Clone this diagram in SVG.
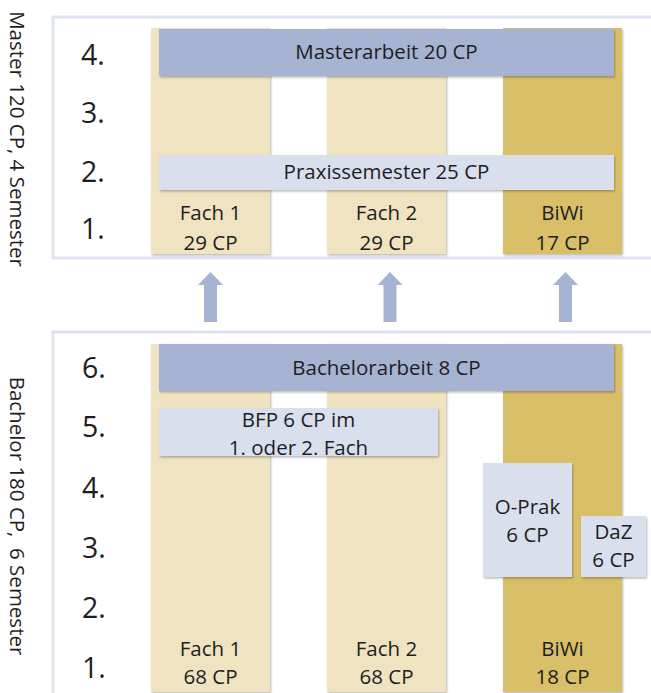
<svg xmlns="http://www.w3.org/2000/svg" width="651" height="693" viewBox="0 0 651 693">
<defs>
<filter id="sh" x="-5%" y="-5%" width="115%" height="115%">
<feDropShadow dx="1" dy="1.5" stdDeviation="1" flood-color="#000" flood-opacity="0.28"/>
</filter>
<style>
.frame{fill:#fff;stroke:#dde3f0;stroke-width:3}
.fach{fill:#f0e3c1;filter:url(#sh)}
.biwi{fill:#d9bf68;filter:url(#sh)}
.dark{fill:#a6b3d2;filter:url(#sh)}
.light{fill:#d9dfed;filter:url(#sh)}
text{font-family:"Open Sans","Liberation Sans",sans-serif;fill:#1e1e1e}
.t{font-size:20.5px;text-anchor:middle}
.n{font-size:28.5px}
.side{font-size:20.5px;text-anchor:middle}
.arrow{fill:#a6b3d2}
</style>
</defs>
<rect width="651" height="693" fill="#fff"/>
<g id="master-frame">
<rect class="frame" x="53" y="17" width="620" height="241"/>
<text class="side" transform="translate(10,0) rotate(90)" x="139" y="0">Master 120 CP, 4 Semester</text>
<text class="n" x="81" y="65">4.</text>
<text class="n" x="81" y="123">3.</text>
<text class="n" x="81" y="182">2.</text>
<text class="n" x="81" y="239">1.</text>
</g>
<g id="m-fach1"><rect class="fach" x="151" y="28" width="119" height="226"/><text class="t" x="210.5" y="220">Fach 1</text><text class="t" x="210.5" y="250">29 CP</text></g>
<g id="m-fach2"><rect class="fach" x="327" y="28" width="119" height="226"/><text class="t" x="386.5" y="220">Fach 2</text><text class="t" x="386.5" y="250">29 CP</text></g>
<g id="m-biwi"><rect class="biwi" x="503" y="28" width="119" height="226"/><text class="t" x="562.5" y="220">BiWi</text><text class="t" x="562.5" y="250">17 CP</text></g>
<g id="masterarbeit"><rect class="dark" x="159" y="29" width="455" height="47"/><text class="t" x="386.5" y="59">Masterarbeit 20 CP</text></g>
<g id="praxissemester"><rect class="light" x="159" y="155" width="455" height="35"/><text class="t" x="386.5" y="179">Praxissemester 25 CP</text></g>

<g id="connectors">
<polygon class="arrow" points="210.5,272 223,285 217,285 217,322 204,322 204,285 198,285"/>
<polygon class="arrow" points="390,272 402.5,285 396.5,285 396.5,322 383.5,322 383.5,285 377.5,285"/>
<polygon class="arrow" points="565.5,272 578,285 572,285 572,322 559,322 559,285 553,285"/>
</g>

<g id="bachelor-frame">
<rect class="frame" x="53" y="332" width="620" height="380"/>
<text class="side" transform="translate(10,0) rotate(90)" x="516" y="0" xml:space="preserve">Bachelor 180 CP,  6 Semester</text>
<text class="n" x="82" y="378">6.</text>
<text class="n" x="82" y="437">5.</text>
<text class="n" x="82" y="498">4.</text>
<text class="n" x="82" y="558">3.</text>
<text class="n" x="82" y="618">2.</text>
<text class="n" x="82" y="678">1.</text>
</g>
<g id="b-fach1"><rect class="fach" x="151" y="344" width="119" height="348"/><text class="t" x="210.5" y="656">Fach 1</text><text class="t" x="210.5" y="684">68 CP</text></g>
<g id="b-fach2"><rect class="fach" x="327" y="344" width="119" height="348"/><text class="t" x="386.5" y="656">Fach 2</text><text class="t" x="386.5" y="684">68 CP</text></g>
<g id="b-biwi"><rect class="biwi" x="503" y="344" width="119" height="348"/><text class="t" x="562.5" y="656">BiWi</text><text class="t" x="562.5" y="684">18 CP</text></g>
<g id="bachelorarbeit"><rect class="dark" x="159" y="344" width="455" height="47"/><text class="t" x="386.5" y="375">Bachelorarbeit 8 CP</text></g>
<g id="bfp"><rect class="light" x="159" y="408" width="279" height="48"/><text class="t" x="298.5" y="427">BFP 6 CP im</text><text class="t" x="298.5" y="455">1. oder 2. Fach</text></g>
<g id="oprak"><rect class="light" x="483" y="463" width="89" height="114"/><text class="t" x="527.5" y="514">O-Prak</text><text class="t" x="527.5" y="542">6 CP</text></g>
<g id="daz"><rect class="light" x="581" y="516" width="65" height="61"/><text class="t" x="613.5" y="539">DaZ</text><text class="t" x="613.5" y="567">6 CP</text></g>
</svg>
